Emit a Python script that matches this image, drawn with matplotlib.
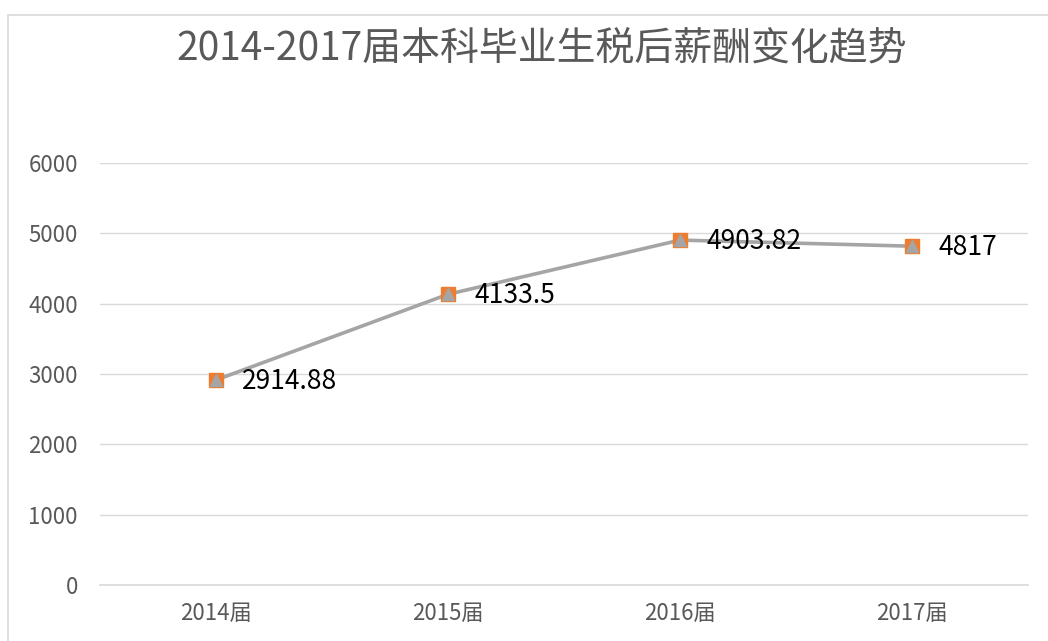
import matplotlib
matplotlib.use("Agg")
import matplotlib.pyplot as plt
from matplotlib.patches import Rectangle

plt.rcParams['font.family'] = ['Noto Sans CJK SC', 'DejaVu Sans']

categories = ["2014届", "2015届", "2016届", "2017届"]
salary = [2914.88, 4133.5, 4903.82, 4817]
value_labels = ["2914.88", "4133.5", "4903.82", "4817"]
yticks = [0, 1000, 2000, 3000, 4000, 5000, 6000]
title = "2014-2017届本科毕业生税后薪酬变化趋势"

W, H = 1048, 641
fig = plt.figure(figsize=(W / 100, H / 100), dpi=100)
fig.patches.append(Rectangle((8 / W, -0.1), 1.1, 1.1 - 15 / H, transform=fig.transFigure,
                             fill=False, edgecolor="#d9d9d9", linewidth=1.2))

ax = fig.add_axes([100 / W, 1 - 585 / H, 928 / W, (585 - 163) / H])
x = list(range(len(categories)))
ax.plot(x, salary, color="#a5a5a5", linewidth=2.6, zorder=3)
ax.plot(x, salary, linestyle="none", marker="s", markersize=10,
        markerfacecolor="#ed7d31", markeredgecolor="#ed7d31", zorder=4)
ax.plot(x, salary, linestyle="none", marker="^", markersize=9,
        markerfacecolor="#a5a5a5", markeredgecolor="#a5a5a5", zorder=5)

for xi, yi, lab in zip(x, salary, value_labels):
    ax.annotate(lab, (xi, yi), xytext=(19, -1), textcoords="offset points",
                ha="left", va="center", fontsize=19, color="black", zorder=6)

ax.set_xlim(-0.5, len(categories) - 0.5)
ax.set_ylim(0, 6000)
ax.set_yticks(yticks)
ax.set_yticklabels([str(t) for t in yticks])
ax.set_xticks(x)
ax.set_xticklabels(categories)
ax.tick_params(axis="both", length=0, labelsize=16, labelcolor="#595959")
ax.tick_params(axis="y", pad=16)
ax.tick_params(axis="x", pad=12)
ax.grid(axis="y", color="#d9d9d9", linewidth=1)
ax.axhline(0, color="#d9d9d9", linewidth=1.2, clip_on=False, zorder=1)
ax.set_axisbelow(True)
for s in ax.spines.values():
    s.set_visible(False)

fig.text(542 / W, 1 - 48 / H, title, ha="center", va="center", fontsize=28, color="#595959")

fig.savefig("out.png", dpi=100)
